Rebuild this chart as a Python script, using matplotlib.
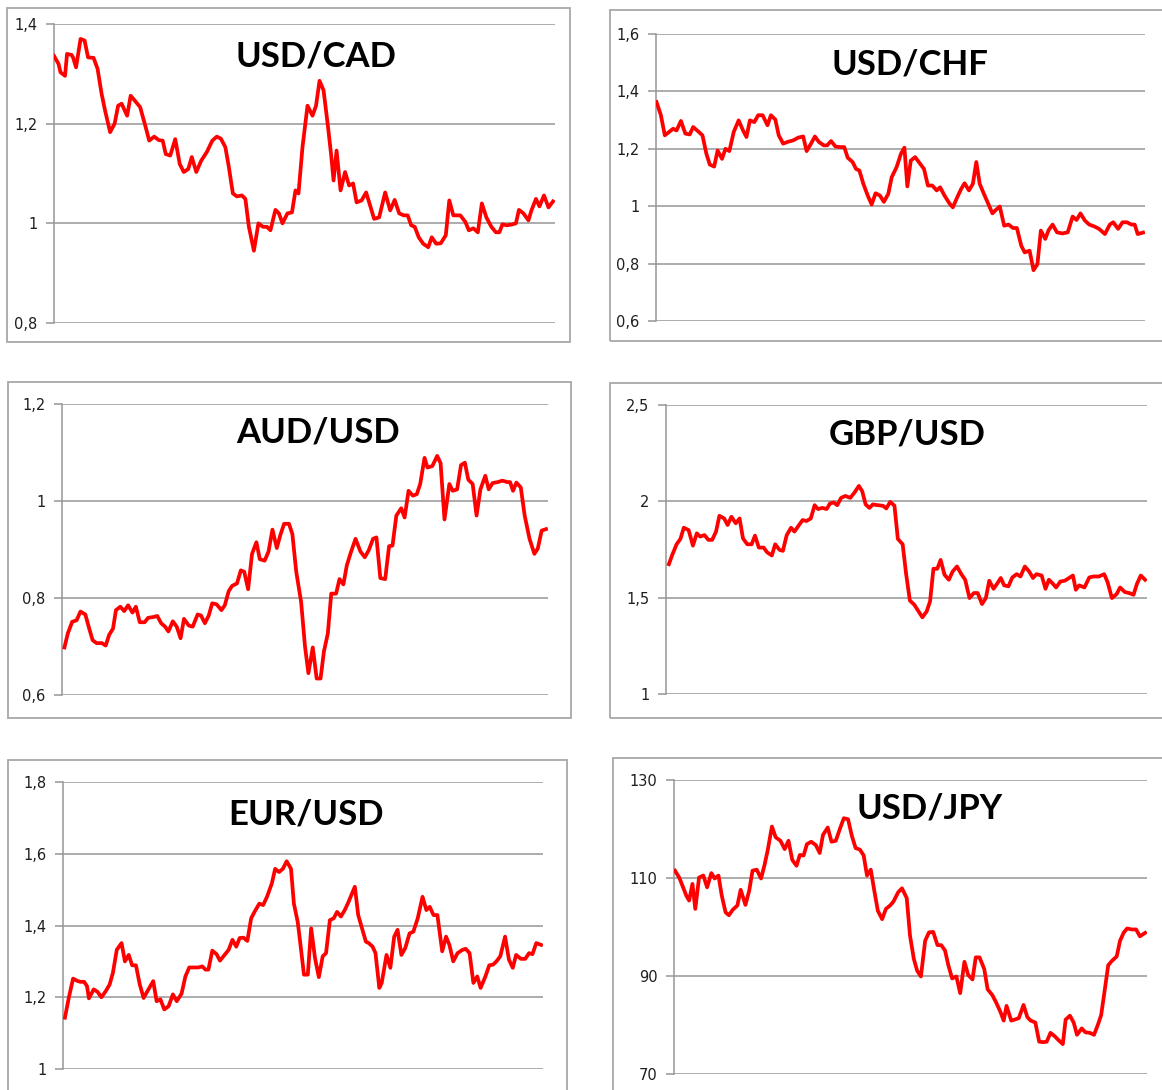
import matplotlib
matplotlib.use("Agg")
import matplotlib.pyplot as plt
from matplotlib.patches import Rectangle

# time position of each reading, as % of the plotted period, and the rate

cad_t = [0, 0.9, 1.3, 2.2, 2.6, 3.5, 3.8, 4.4, 5.3, 6.1, 6.8, 7.9, 8.7, 9.5, 10.2, 11.2, 12.1, 12.8, 13.5, 14.6,
         15.3, 16.4, 17.2, 18.3, 19.0, 20.0, 20.9, 21.7, 22.3, 23.2, 24.2, 25.1, 25.9, 26.8, 27.5, 28.4, 29.4, 30.5, 31.6, 32.5,
         33.3, 34.2, 34.9, 35.7, 36.5, 37.5, 38.2, 38.9, 39.9, 40.8, 41.7, 42.5, 43.2, 44.2, 44.9, 45.6, 46.6, 47.5, 48.2, 48.8,
         49.6, 50.6, 51.6, 52.3, 53.0, 53.8, 54.7, 55.3, 55.8, 56.4, 57.2, 58.1, 58.9, 59.7, 60.4, 61.4, 62.3, 63.0, 63.9, 64.9,
         66.1, 67.1, 68.0, 68.9, 69.8, 70.6, 71.3, 72.0, 72.8, 73.7, 74.7, 75.4, 76.3, 77.2, 78.2, 78.9, 79.7, 81.1, 82.1, 82.8,
         83.7, 84.6, 85.4, 86.3, 87.3, 88.2, 88.9, 89.5, 90.4, 91.5, 92.2, 92.8, 93.7, 94.7, 95.3, 96.2, 96.9, 97.8, 98.7, 99.6]
cad_v = [1.336, 1.32, 1.303, 1.296, 1.34, 1.338, 1.333, 1.313, 1.37, 1.367, 1.333, 1.332, 1.31, 1.26, 1.226, 1.183, 1.2, 1.236, 1.24, 1.216,
         1.256, 1.243, 1.233, 1.193, 1.166, 1.174, 1.167, 1.166, 1.139, 1.136, 1.169, 1.119, 1.103, 1.109, 1.133, 1.103, 1.126, 1.143, 1.166, 1.174,
         1.17, 1.153, 1.113, 1.06, 1.054, 1.056, 1.049, 0.993, 0.945, 1.0, 0.993, 0.993, 0.986, 1.027, 1.02, 1.0, 1.02, 1.022, 1.066, 1.06,
         1.153, 1.236, 1.216, 1.236, 1.286, 1.267, 1.193, 1.139, 1.086, 1.146, 1.066, 1.103, 1.076, 1.08, 1.042, 1.046, 1.062, 1.039, 1.009, 1.012,
         1.062, 1.026, 1.047, 1.02, 1.016, 1.016, 0.996, 0.993, 0.972, 0.959, 0.952, 0.972, 0.959, 0.96, 0.976, 1.046, 1.016, 1.016, 1.003, 0.986,
         0.99, 0.982, 1.04, 1.012, 0.993, 0.982, 0.982, 0.998, 0.996, 0.998, 1.0, 1.027, 1.02, 1.006, 1.026, 1.049, 1.034, 1.056, 1.032, 1.044]

chf_t = [0.1, 1.0, 1.8, 2.7, 3.5, 4.2, 5.1, 6.0, 6.9, 7.6, 8.6, 9.5, 10.3, 11.0, 11.9, 12.6, 13.5, 14.2, 15.0, 15.9,
         16.9, 17.8, 18.5, 19.2, 20.1, 20.9, 21.8, 22.8, 23.5, 24.4, 25.1, 26.0, 26.9, 28.0, 29.1, 30.1, 30.8, 31.7, 32.5, 33.3,
         34.3, 35.0, 35.8, 36.7, 37.6, 38.5, 39.2, 40.2, 40.9, 41.6, 42.4, 43.3, 44.1, 44.9, 45.8, 46.6, 47.5, 48.2, 49.2, 50.1,
         50.8, 51.4, 52.1, 53.0, 54.0, 54.8, 55.6, 56.5, 57.4, 58.1, 59.0, 60.0, 60.7, 61.6, 62.4, 63.1, 64.0, 64.8, 65.5, 66.2,
         67.0, 67.8, 68.8, 69.5, 70.3, 71.2, 72.1, 73.0, 73.8, 74.7, 75.4, 76.4, 77.2, 78.0, 78.7, 79.6, 80.3, 81.1, 82.0, 83.1,
         84.2, 85.2, 86.0, 86.8, 87.7, 88.6, 89.7, 90.6, 91.8, 92.8, 93.5, 94.5, 95.4, 96.3, 97.2, 97.9, 98.5, 99.6]
chf_v = [1.363, 1.317, 1.247, 1.259, 1.27, 1.264, 1.297, 1.253, 1.25, 1.276, 1.261, 1.247, 1.183, 1.145, 1.138, 1.194, 1.165, 1.2, 1.192, 1.259,
         1.299, 1.264, 1.241, 1.299, 1.293, 1.317, 1.317, 1.282, 1.317, 1.302, 1.247, 1.218, 1.224, 1.229, 1.239, 1.243, 1.192, 1.218, 1.243, 1.224,
         1.212, 1.212, 1.227, 1.208, 1.206, 1.206, 1.169, 1.154, 1.13, 1.124, 1.078, 1.037, 1.006, 1.045, 1.037, 1.015, 1.043, 1.101, 1.136, 1.183,
         1.204, 1.069, 1.159, 1.171, 1.148, 1.13, 1.072, 1.072, 1.055, 1.066, 1.037, 1.01, 0.996, 1.031, 1.06, 1.08, 1.055, 1.078, 1.154, 1.078,
         1.045, 1.014, 0.975, 0.987, 0.999, 0.932, 0.936, 0.924, 0.924, 0.862, 0.839, 0.845, 0.777, 0.798, 0.915, 0.886, 0.917, 0.936, 0.909, 0.905,
         0.909, 0.964, 0.952, 0.975, 0.95, 0.936, 0.929, 0.921, 0.903, 0.936, 0.944, 0.921, 0.944, 0.944, 0.936, 0.936, 0.903, 0.908]

aud_t = [0.5, 1.2, 2.1, 3.0, 3.8, 4.8, 5.6, 6.3, 7.1, 8.2, 9.0, 9.7, 10.5, 11.1, 12.0, 12.8, 13.6, 14.5, 15.2, 16.0,
         17.0, 17.7, 18.9, 19.6, 20.4, 21.2, 21.9, 22.8, 23.6, 24.4, 25.1, 26.1, 26.9, 27.9, 28.6, 29.4, 30.2, 30.9, 31.8, 32.8,
         33.5, 34.3, 35.0, 36.0, 36.8, 37.5, 38.3, 39.1, 40.0, 40.7, 41.7, 42.5, 43.3, 44.2, 44.9, 45.7, 46.7, 47.4, 48.2, 49.2,
         50.0, 50.7, 51.6, 52.4, 53.2, 53.9, 54.7, 55.4, 56.4, 57.1, 57.9, 58.6, 59.4, 60.4, 61.4, 62.3, 63.1, 64.0, 64.7, 65.5,
         66.5, 67.3, 68.0, 68.8, 69.8, 70.5, 71.3, 72.2, 73.0, 73.7, 74.6, 75.2, 76.2, 77.2, 77.9, 78.7, 79.7, 80.4, 81.3, 82.1,
         82.9, 83.6, 84.5, 85.3, 86.1, 87.1, 87.8, 88.6, 89.7, 90.6, 91.6, 92.2, 92.8, 93.5, 94.4, 95.2, 96.2, 97.2, 97.9, 98.7,
         99.6]
aud_v = [0.698, 0.727, 0.751, 0.754, 0.772, 0.766, 0.737, 0.713, 0.707, 0.707, 0.702, 0.724, 0.737, 0.775, 0.782, 0.773, 0.785, 0.77, 0.782, 0.75,
         0.75, 0.759, 0.761, 0.763, 0.748, 0.741, 0.731, 0.752, 0.741, 0.717, 0.757, 0.743, 0.741, 0.766, 0.764, 0.748, 0.764, 0.789, 0.787, 0.775,
         0.785, 0.814, 0.825, 0.83, 0.857, 0.854, 0.818, 0.891, 0.915, 0.88, 0.877, 0.896, 0.941, 0.903, 0.929, 0.953, 0.953, 0.932, 0.854, 0.792,
         0.7, 0.645, 0.698, 0.634, 0.634, 0.69, 0.727, 0.809, 0.809, 0.839, 0.828, 0.867, 0.893, 0.922, 0.896, 0.884, 0.898, 0.922, 0.925, 0.841,
         0.839, 0.907, 0.908, 0.97, 0.985, 0.966, 1.021, 1.011, 1.014, 1.035, 1.089, 1.069, 1.072, 1.093, 1.078, 0.962, 1.035, 1.021, 1.024, 1.074,
         1.079, 1.044, 1.035, 0.97, 1.024, 1.052, 1.024, 1.037, 1.039, 1.042, 1.039, 1.039, 1.021, 1.038, 1.028, 0.97, 0.922, 0.891, 0.902, 0.939,
         0.942]

gbp_t = [0.6, 1.3, 2.2, 3.0, 3.7, 4.7, 5.6, 6.4, 7.1, 8.0, 8.8, 9.6, 10.4, 11.1, 12.1, 12.8, 13.6, 14.5, 15.3, 16.0,
         16.9, 17.8, 18.5, 19.3, 20.3, 21.0, 22.0, 22.7, 23.6, 24.3, 25.1, 26.0, 26.7, 27.4, 28.4, 29.2, 30.1, 30.9, 31.6, 32.5,
         33.4, 34.1, 34.9, 35.6, 36.4, 37.3, 38.3, 39.2, 40.1, 40.8, 41.5, 42.3, 43.0, 44.0, 45.1, 45.8, 46.6, 47.5, 48.2, 49.2,
         49.9, 50.7, 51.6, 52.5, 53.3, 54.2, 54.9, 55.6, 56.4, 57.1, 57.9, 58.8, 59.6, 60.5, 61.4, 62.2, 63.1, 64.0, 64.8, 65.7,
         66.5, 67.2, 68.1, 68.8, 69.6, 70.3, 71.2, 72.0, 72.9, 73.7, 74.6, 75.5, 76.3, 77.0, 78.1, 78.9, 79.6, 80.3, 81.1, 82.0,
         82.9, 83.8, 84.6, 85.2, 85.9, 87.0, 88.0, 88.9, 90.0, 91.1, 91.8, 92.7, 93.7, 94.4, 95.4, 96.3, 97.2, 97.9, 98.7, 99.6]
gbp_v = [1.674, 1.722, 1.777, 1.805, 1.863, 1.851, 1.77, 1.834, 1.817, 1.825, 1.8, 1.8, 1.843, 1.925, 1.911, 1.877, 1.92, 1.886, 1.911, 1.808,
         1.777, 1.777, 1.822, 1.76, 1.76, 1.736, 1.719, 1.777, 1.748, 1.743, 1.825, 1.863, 1.843, 1.868, 1.903, 1.898, 1.911, 1.98, 1.96, 1.966,
         1.96, 1.989, 1.994, 1.98, 2.018, 2.028, 2.018, 2.046, 2.08, 2.052, 1.984, 1.966, 1.984, 1.98, 1.977, 1.963, 1.997, 1.977, 1.805, 1.777,
         1.627, 1.485, 1.464, 1.429, 1.398, 1.429, 1.481, 1.65, 1.65, 1.696, 1.619, 1.593, 1.636, 1.662, 1.622, 1.593, 1.498, 1.524, 1.524, 1.467,
         1.498, 1.588, 1.546, 1.571, 1.602, 1.564, 1.559, 1.605, 1.622, 1.61, 1.662, 1.636, 1.602, 1.622, 1.615, 1.546, 1.593, 1.576, 1.553, 1.584,
         1.588, 1.602, 1.615, 1.541, 1.564, 1.553, 1.605, 1.61, 1.61, 1.622, 1.581, 1.498, 1.519, 1.553, 1.529, 1.524, 1.515, 1.571, 1.615, 1.593]

eur_t = [0.4, 1.2, 2.1, 2.9, 3.6, 4.4, 5.0, 5.4, 6.4, 7.2, 8.0, 8.9, 9.7, 10.4, 11.2, 12.2, 12.9, 13.7, 14.4, 15.2,
         16.0, 16.8, 17.5, 18.8, 19.5, 20.3, 21.1, 22.0, 22.9, 23.7, 24.7, 25.5, 26.3, 27.3, 28.2, 29.0, 29.7, 30.3, 31.1, 32.0,
         32.7, 33.6, 34.5, 35.3, 36.1, 36.8, 37.6, 38.4, 39.2, 39.9, 40.9, 41.7, 42.5, 43.5, 44.2, 45.0, 45.8, 46.6, 47.5, 48.1,
         48.9, 49.4, 50.2, 51.0, 51.7, 52.5, 53.3, 54.1, 54.8, 55.6, 56.4, 57.1, 57.9, 58.7, 59.5, 60.2, 60.8, 61.5, 62.3, 63.1,
         63.7, 64.5, 65.1, 65.9, 66.4, 67.4, 68.2, 69.0, 69.7, 70.5, 71.3, 72.2, 73.0, 73.9, 74.9, 75.7, 76.4, 77.2, 78.0, 79.0,
         79.8, 80.5, 81.3, 82.2, 83.2, 83.9, 84.7, 85.5, 86.3, 87.0, 88.0, 88.8, 89.6, 90.3, 91.1, 92.1, 92.9, 93.7, 94.4, 95.4,
         96.3, 97.1, 97.8, 98.6, 99.6]
eur_v = [1.143, 1.198, 1.252, 1.246, 1.243, 1.243, 1.231, 1.197, 1.222, 1.215, 1.2, 1.217, 1.235, 1.268, 1.332, 1.351, 1.3, 1.318, 1.289, 1.289,
         1.235, 1.198, 1.215, 1.245, 1.189, 1.194, 1.166, 1.175, 1.208, 1.189, 1.21, 1.258, 1.283, 1.283, 1.283, 1.286, 1.277, 1.277, 1.33, 1.32,
         1.302, 1.317, 1.332, 1.36, 1.341, 1.365, 1.366, 1.357, 1.42, 1.438, 1.461, 1.457, 1.48, 1.517, 1.558, 1.549, 1.558, 1.579, 1.558, 1.461,
         1.41, 1.355, 1.263, 1.263, 1.392, 1.309, 1.256, 1.314, 1.323, 1.415, 1.42, 1.438, 1.425, 1.443, 1.466, 1.489, 1.508, 1.429, 1.392, 1.355,
         1.351, 1.341, 1.323, 1.226, 1.24, 1.318, 1.282, 1.369, 1.388, 1.318, 1.337, 1.378, 1.383, 1.42, 1.48, 1.443, 1.452, 1.429, 1.429, 1.328,
         1.369, 1.346, 1.3, 1.323, 1.332, 1.335, 1.323, 1.24, 1.258, 1.226, 1.258, 1.289, 1.291, 1.3, 1.314, 1.369, 1.305, 1.282, 1.318, 1.307,
         1.307, 1.323, 1.32, 1.351, 1.346]

jpy_t = [0.2, 1.1, 1.8, 2.6, 3.2, 3.9, 4.5, 5.3, 6.2, 7.0, 7.9, 8.6, 9.4, 10.1, 10.9, 11.6, 12.4, 13.4, 14.1, 15.1,
         15.9, 16.6, 17.5, 18.4, 19.1, 19.8, 20.7, 21.5, 22.5, 23.4, 24.2, 25.0, 25.9, 26.6, 27.4, 28.1, 29.0, 30.0, 30.8, 31.5,
         32.5, 33.3, 34.2, 35.1, 35.9, 36.8, 37.6, 38.4, 39.3, 40.1, 40.8, 41.6, 42.4, 43.1, 44.0, 44.8, 45.7, 46.4, 47.4, 48.2,
         49.2, 49.9, 50.7, 51.4, 52.2, 53.1, 53.9, 54.8, 55.7, 56.5, 57.3, 58.0, 58.8, 59.7, 60.5, 61.4, 62.2, 63.1, 63.8, 64.6,
         65.6, 66.3, 67.3, 68.1, 69.0, 69.7, 70.3, 71.3, 72.0, 72.9, 73.9, 74.7, 75.4, 76.4, 77.2, 78.1, 78.8, 79.6, 80.5, 81.2,
         82.2, 82.8, 83.7, 84.5, 85.2, 86.2, 87.0, 87.9, 88.8, 89.6, 90.3, 90.9, 91.8, 92.6, 93.6, 94.3, 95.1, 95.8, 96.8, 97.7,
         98.5, 99.6]
jpy_v = [111.5, 110.1, 108.4, 106.4, 105.4, 108.8, 103.7, 110.1, 110.5, 108.1, 111.0, 109.9, 110.5, 106.4, 103.0, 102.4, 103.5, 104.4, 107.6, 104.5,
         107.4, 111.5, 111.7, 109.9, 112.5, 115.6, 120.5, 118.3, 117.6, 115.9, 117.6, 113.7, 112.5, 114.7, 114.6, 116.9, 117.4, 116.7, 115.1, 118.8,
         120.3, 117.4, 117.6, 120.1, 122.2, 122.0, 118.6, 116.1, 115.8, 114.6, 110.5, 111.7, 107.1, 103.3, 101.6, 103.7, 104.4, 105.2, 107.1, 107.9,
         105.9, 98.2, 93.5, 91.1, 89.9, 97.2, 98.9, 99.0, 96.3, 96.3, 95.2, 92.2, 89.5, 89.9, 86.5, 92.9, 90.2, 89.3, 93.8, 93.8,
         91.4, 87.3, 86.1, 84.6, 82.7, 80.9, 83.9, 80.9, 81.1, 81.4, 84.1, 81.6, 80.9, 80.5, 76.6, 76.5, 76.6, 78.4, 77.7, 77.0,
         76.1, 81.1, 81.9, 80.5, 78.0, 79.3, 78.5, 78.4, 78.0, 80.0, 82.0, 86.0, 92.2, 93.1, 94.0, 97.2, 98.9, 99.7, 99.5, 99.5,
         98.1, 98.8]

cad_ticks = [0.8, 1.0, 1.2, 1.4]
cad_labels = ["0,8", "1", "1,2", "1,4"]
chf_ticks = [0.6, 0.8, 1.0, 1.2, 1.4, 1.6]
chf_labels = ["0,6", "0,8", "1", "1,2", "1,4", "1,6"]
aud_ticks = [0.6, 0.8, 1.0, 1.2]
aud_labels = ["0,6", "0,8", "1", "1,2"]
gbp_ticks = [1.0, 1.5, 2.0, 2.5]
gbp_labels = ["1", "1,5", "2", "2,5"]
eur_ticks = [1.0, 1.2, 1.4, 1.6, 1.8]
eur_labels = ["1", "1,2", "1,4", "1,6", "1,8"]
jpy_ticks = [70, 90, 110, 130]
jpy_labels = ["70", "90", "110", "130"]

W, H = 1162, 1090
GRAY = "#969696"
BOX = "#a8a8a8"

# layout in pixels: axes (left, top, right, bottom), frame box, title centre
panels = [
    ("USD/CAD", cad_t, cad_v, cad_ticks, cad_labels, (54, 24, 555, 323), (7, 8, 570, 342), (316, 56)),
    ("USD/CHF", chf_t, chf_v, chf_ticks, chf_labels, (656, 34, 1145, 321), (610, 10, 1175, 341), (910, 65)),
    ("AUD/USD", aud_t, aud_v, aud_ticks, aud_labels, (62, 404, 548, 695), (8, 382, 571, 718), (318, 433)),
    ("GBP/USD", gbp_t, gbp_v, gbp_ticks, gbp_labels, (666, 405, 1147, 694), (610, 383, 1175, 718), (907, 435)),
    ("EUR/USD", eur_t, eur_v, eur_ticks, eur_labels, (63, 782, 543, 1069), (8, 760, 567, 1100), (306, 814)),
    ("USD/JPY", jpy_t, jpy_v, jpy_ticks, jpy_labels, (674, 780, 1147, 1074), (613, 758, 1175, 1100), (930, 808)),
]

fig = plt.figure(figsize=(W / 100, H / 100), dpi=100)
fig.patch.set_facecolor("white")

for name, t, v, ticks, labels, ax_px, box_px, title_px in panels:
    bl, bt, br, bb = box_px
    fig.add_artist(Rectangle((bl / W, 1 - bb / H), (br - bl) / W, (bb - bt) / H,
                             transform=fig.transFigure, fill=False, ec=BOX, lw=1.3))

    l, t0, r, b = ax_px
    ax = fig.add_axes([l / W, 1 - b / H, (r - l) / W, (b - t0) / H])
    ax.plot(t, v, color="#ff0000", lw=2.7, solid_joinstyle="round", zorder=3)
    ax.set_xlim(0, 100)
    ax.set_ylim(ticks[0], ticks[-1])
    ax.set_yticks(ticks)
    ax.set_yticklabels(labels, fontfamily="DejaVu Sans", fontsize=10.5, color="#1e1e1e")
    ax.set_xticks([])
    ax.yaxis.grid(True, color=GRAY, lw=1.1)
    ax.set_axisbelow(True)
    for side in ("top", "right", "bottom"):
        ax.spines[side].set_visible(False)
    ax.spines["left"].set_color(GRAY)
    ax.spines["left"].set_linewidth(1.1)
    ax.tick_params(axis="y", length=6, width=1.1, color=GRAY, pad=6)

    fig.text(title_px[0] / W, 1 - title_px[1] / H, name, ha="center", va="center",
             fontsize=25, fontweight="bold", family=["Lato", "DejaVu Sans"], color="black")

fig.savefig("out.png", dpi=100)
plt.close(fig)
